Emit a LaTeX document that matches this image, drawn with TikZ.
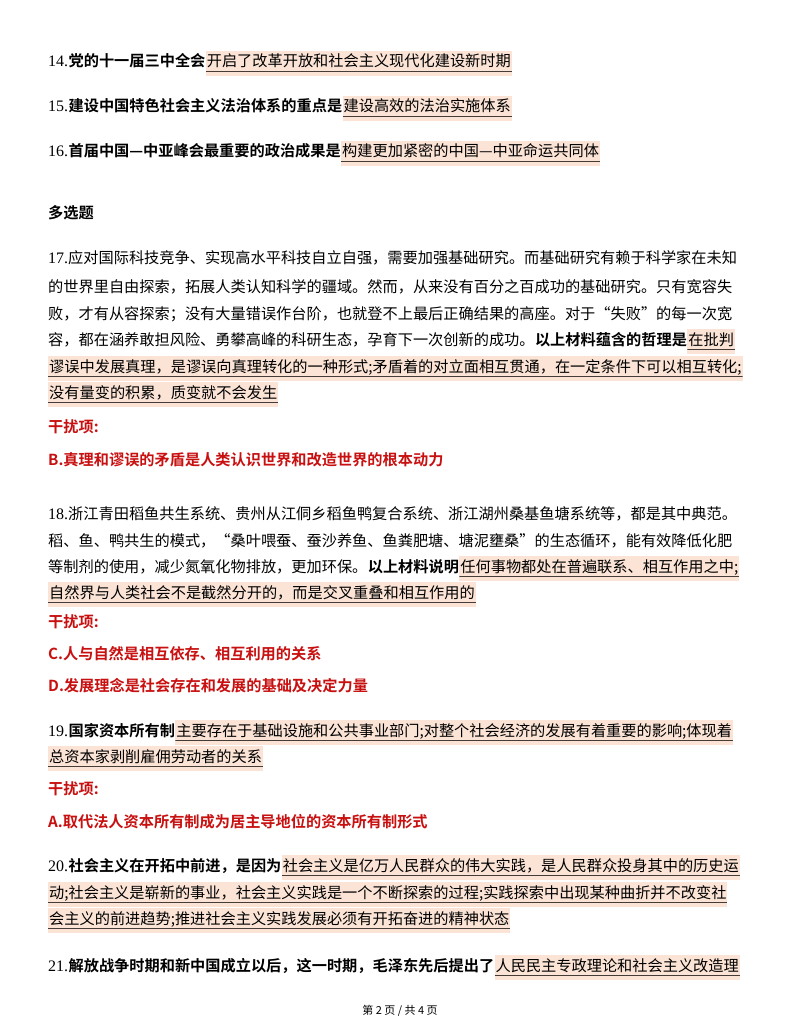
\documentclass[tikz,border=0pt]{standalone}
\usepackage{fontspec}
\setmainfont{Noto Sans CJK SC}[BoldFont={Noto Sans CJK SC Bold}]
\newfontfamily\numfont{Liberation Serif}
\definecolor{hlc}{RGB}{251,228,214}
\definecolor{redc}{RGB}{200,16,16}
\definecolor{ulc}{RGB}{70,60,55}
\tikzset{
  txt/.style={anchor=base west,inner sep=0pt,font=\fontsize{15.2}{18}\selectfont},
  bd/.style={txt,font=\fontsize{15.2}{18}\selectfont\bfseries},
  rd/.style={bd,text=redc},
  hl/.style={txt,fill=hlc,inner xsep=1pt,text height=16pt,text depth=9pt,
    path picture={\draw[ulc,line width=0.7pt]([yshift=5pt]path picture bounding box.south west)--([yshift=5pt]path picture bounding box.south east);}},
}
\newcommand\nm[1]{{\numfont\fontsize{16}{18}\selectfont #1}}
\begin{document}
\begin{tikzpicture}[x=1pt,y=-1pt]
\useasboundingbox[fill=white] (0,0) rectangle (800,1035);
% 14
\node[txt] (a1) at (48,67) {\nm{14.}};
\node[bd] (a2) at (a1.base east) {党的十一届三中全会};
\node[hl] (a3) at (a2.base east) {开启了改革开放和社会主义现代化建设新时期};
% 15
\node[txt] (b1) at (48,112) {\nm{15.}};
\node[bd] (b2) at (b1.base east) {建设中国特色社会主义法治体系的重点是};
\node[hl] (b3) at (b2.base east) {建设高效的法治实施体系};
% 16
\node[txt] (c1) at (48,157) {\nm{16.}};
\node[bd] (c2) at (c1.base east) {首届中国—中亚峰会最重要的政治成果是};
\node[hl] (c3) at (c2.base east) {构建更加紧密的中国—中亚命运共同体};
\node[bd] (dx) at (48,218) {多选题};
% 17
\node[txt] (d1) at (48,263) {\nm{17.}应对国际科技竞争、实现高水平科技自立自强，需要加强基础研究。而基础研究有赖于科学家在未知};
\node[txt] (d2) at (48,292) {的世界里自由探索，拓展人类认知科学的疆域。然而，从来没有百分之百成功的基础研究。只有宽容失};
\node[txt] (d3) at (48,319) {败，才有从容探索；没有大量错误作台阶，也就登不上最后正确结果的高座。对于“失败”的每一次宽};
\node[txt] (d4) at (48,345) {容，都在涵养敢担风险、勇攀高峰的科研生态，孕育下一次创新的成功。};
\node[bd] (d5) at (d4.base east) {以上材料蕴含的哲理是};
\node[hl] (d6) at (d5.base east) {在批判};
\node[hl] (d7) at (48,372) {谬误中发展真理，是谬误向真理转化的一种形式;矛盾着的对立面相互贯通，在一定条件下可以相互转化;};
\node[hl] (d8) at (48,398) {没有量变的积累，质变就不会发生};
\node[rd] (d9) at (48,432) {干扰项:};
\node[rd] (d10) at (48,465) {B.真理和谬误的矛盾是人类认识世界和改造世界的根本动力};
% 18
\node[txt] (e1) at (48,519) {\nm{18.}浙江青田稻鱼共生系统、贵州从江侗乡稻鱼鸭复合系统、浙江湖州桑基鱼塘系统等，都是其中典范。};
\node[txt] (e2) at (48,546) {稻、鱼、鸭共生的模式，“桑叶喂蚕、蚕沙养鱼、鱼粪肥塘、塘泥壅桑”的生态循环，能有效降低化肥};
\node[txt] (e3) at (48,572) {等制剂的使用，减少氮氧化物排放，更加环保。};
\node[bd] (e4) at (e3.base east) {以上材料说明};
\node[hl] (e5) at (e4.base east) {任何事物都处在普遍联系、相互作用之中;};
\node[hl] (e6) at (48,598) {自然界与人类社会不是截然分开的，而是交叉重叠和相互作用的};
\node[rd] (e7) at (48,627) {干扰项:};
\node[rd] (e8) at (48,659) {C.人与自然是相互依存、相互利用的关系};
\node[rd] (e9) at (48,691) {D.发展理念是社会存在和发展的基础及决定力量};
% 19
\node[txt] (f1) at (48,736) {\nm{19.}};
\node[bd] (f2) at (f1.base east) {国家资本所有制};
\node[hl] (f3) at (f2.base east) {主要存在于基础设施和公共事业部门;对整个社会经济的发展有着重要的影响;体现着};
\node[hl] (f4) at (48,762) {总资本家剥削雇佣劳动者的关系};
\node[rd] (f5) at (48,794) {干扰项:};
\node[rd] (f6) at (48,827) {A.取代法人资本所有制成为居主导地位的资本所有制形式};
% 20
\node[txt] (g1) at (48,871) {\nm{20.}};
\node[bd] (g2) at (g1.base east) {社会主义在开拓中前进，是因为};
\node[hl] (g3) at (g2.base east) {社会主义是亿万人民群众的伟大实践，是人民群众投身其中的历史运};
\node[hl] (g4) at (48,898) {动;社会主义是崭新的事业，社会主义实践是一个不断探索的过程;实践探索中出现某种曲折并不改变社};
\node[hl] (g5) at (48,924) {会主义的前进趋势;推进社会主义实践发展必须有开拓奋进的精神状态};
% 21
\node[txt] (h1) at (48,971) {\nm{21.}};
\node[bd] (h2) at (h1.base east) {解放战争时期和新中国成立以后，这一时期，毛泽东先后提出了};
\node[hl] (h3) at (h2.base east) {人民民主专政理论和社会主义改造理};
% footer
\node[font=\fontsize{11}{13}\selectfont,inner sep=0pt] (ft) at (400,1011) {第 2 页 / 共 4 页};
\end{tikzpicture}
\end{document}
